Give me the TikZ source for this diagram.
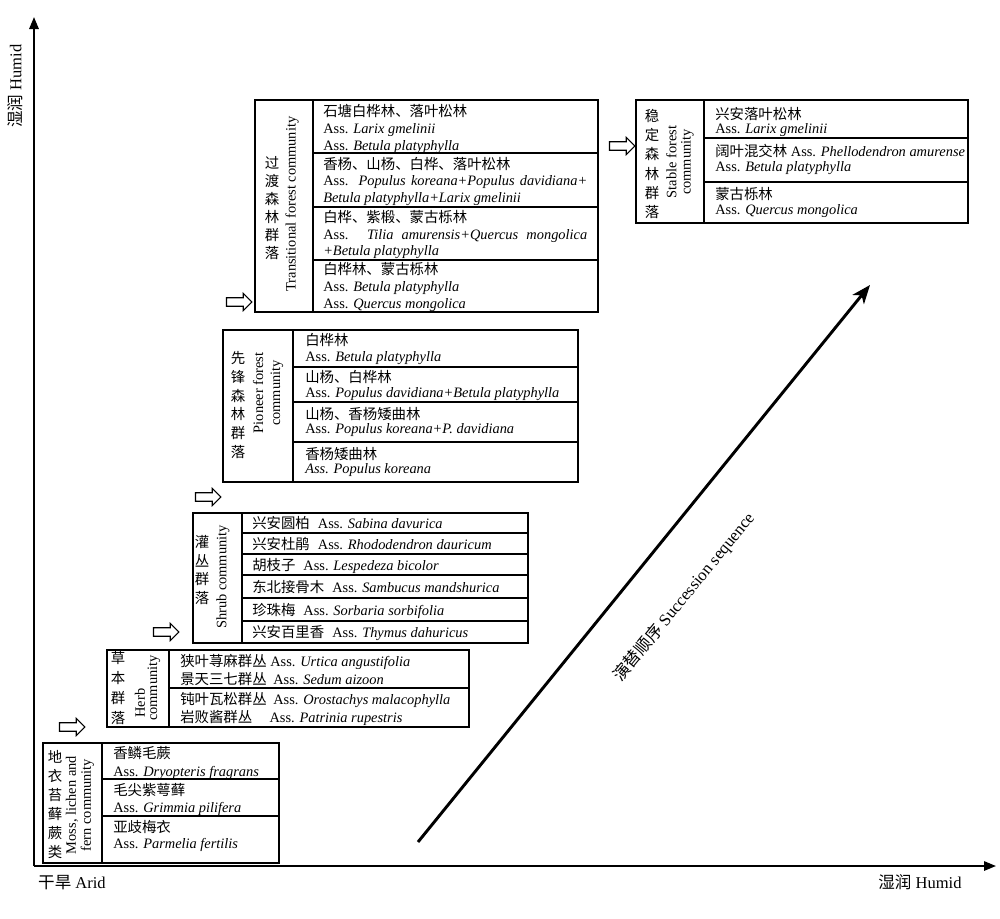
\documentclass[tikz,border=0pt]{standalone}
\usepackage{fontspec}
\setmainfont{Liberation Serif}
\newfontfamily\cjk{Noto Sans CJK SC}
\newcommand{\zh}[1]{{\cjk #1}}
\usetikzlibrary{arrows.meta,shapes.arrows}
\begin{document}
\begin{tikzpicture}[x=0.75pt,y=-0.75pt,
  every node/.style={font=\fontsize{10.8}{12.75}\selectfont},
  txt/.style={anchor=base west,inner sep=0pt},
  boxline/.style={line width=0.8pt},
  thickbox/.style={line width=1.4pt},
  axis/.style={line width=1.5pt,-{Triangle[length=9pt,width=7pt]}},
  hollow/.style={draw,fill=white,single arrow,single arrow head extend=3.2pt,inner sep=2.8pt,minimum height=19pt,line width=0.8pt},
  vzh/.style={align=center,inner sep=0pt},
  ven/.style={rotate=90,align=center,inner sep=0pt},
  axlabel/.style={font=\fontsize{12.4}{14}\selectfont,inner sep=0pt}
]
\fill[white] (0,0) rectangle (1000,918);
\useasboundingbox (0,0) rectangle (1000,918);

% axes
\coordinate (O) at (34,866);
\coordinate (ytop) at (34,17);
\coordinate (xend) at (996,866);
\draw[axis] (O) -- (ytop);
\draw[axis] (O) -- (xend);
\node[axlabel,rotate=90] (ylab) at (15,86) {\zh{湿润} Humid};
\node[axlabel] (arid) at (72,883) {\zh{干旱} Arid};
\node[axlabel] (humid) at (920,882) {\zh{湿润} Humid};

% succession arrow
\coordinate (s0) at (418,842);
\coordinate (s1) at (870,285);
\draw[line width=2.2pt,-{Stealth[length=14pt,width=11pt,inset=4pt]}] (s0) -- (s1);
\node[rotate=50.8,inner sep=0pt,font=\fontsize{12.6}{14}\selectfont] (seq) at (684,597) {\zh{演替顺序} Succession sequence};

% hollow arrows
\node[hollow] (ha1) at (70,727) {};
\node[hollow] (ha2) at (164,632) {};
\node[hollow] (ha3) at (206,497) {};
\node[hollow] (ha4) at (237,302) {};
\node[hollow] (ha5) at (620,146) {};

% ---------- Transitional forest ----------
\draw[boxline] (255,100) rectangle (598,312);
\draw[boxline] (313,100) -- (313,312);
\draw[boxline] (313,153) -- (598,153) (313,207) -- (598,207) (313,260) -- (598,260);
\node[vzh,font=\fontsize{10.8}{13.5}\selectfont\cjk] (trzh) at (272,208) {过\\渡\\森\\林\\群\\落};
\node[ven] (tren) at (292,204) {Transitional forest community};
\node[txt] (tr1a) at (323,116) {\zh{石塘白桦林、落叶松林}};
\node[txt] (tr1b) at (323,133) {Ass. \textit{Larix gmelinii}};
\node[txt] (tr1c) at (323,150) {Ass. \textit{Betula platyphylla}};
\node[txt] (tr2a) at (323,169) {\zh{香杨、山杨、白桦、落叶松林}};
\node[txt] (tr2b) at (323,185) {\makebox[198pt][s]{Ass. \textit{Populus koreana+Populus davidiana+}}};
\node[txt] (tr2c) at (323,202) {\textit{Betula platyphylla+Larix gmelinii}};
\node[txt] (tr3a) at (323,222) {\zh{白桦、紫椴、蒙古栎林}};
\node[txt] (tr3b) at (323,239) {\makebox[198pt][s]{Ass. \textit{Tilia amurensis+Quercus mongolica}}};
\node[txt] (tr3c) at (323,255) {\textit{+Betula platyphylla}};
\node[txt] (tr4a) at (323,274) {\zh{白桦林、蒙古栎林}};
\node[txt] (tr4b) at (323,291) {Ass. \textit{Betula platyphylla}};
\node[txt] (tr4c) at (323,308) {Ass. \textit{Quercus mongolica}};

% ---------- Stable forest ----------
\draw[boxline] (636,100) rectangle (968,223);
\draw[boxline] (704,100) -- (704,223);
\draw[boxline] (704,138) -- (968,138) (704,182) -- (968,182);
\node[vzh,font=\fontsize{10.8}{14.5}\selectfont\cjk] (stzh) at (652,164) {稳\\定\\森\\林\\群\\落};
\node[ven,font=\fontsize{10.8}{10.8}\selectfont] (sten) at (680,162) {Stable forest\\community};
\node[txt] (st1a) at (715,119) {\zh{兴安落叶松林}};
\node[txt] (st1b) at (715,133) {Ass. \textit{Larix gmelinii}};
\node[txt] (st2a) at (715,156) {\zh{阔叶混交林} Ass. \textit{Phellodendron amurense}};
\node[txt] (st2b) at (715,171) {Ass. \textit{Betula platyphylla}};
\node[txt] (st3a) at (715,199) {\zh{蒙古栎林}};
\node[txt] (st3b) at (715,214) {Ass. \textit{Quercus mongolica}};

% ---------- Pioneer forest ----------
\draw[boxline] (223,330) rectangle (578,482);
\draw[boxline] (293,330) -- (293,482);
\draw[boxline] (293,367) -- (578,367) (293,402) -- (578,402) (293,442) -- (578,442);
\node[vzh,font=\fontsize{10.8}{14.1}\selectfont\cjk] (pizh) at (238,405) {先\\锋\\森\\林\\群\\落};
\node[ven] (pien) at (268,393) {Pioneer forest\\community};
\node[txt] (pi1a) at (305,345) {\zh{白桦林}};
\node[txt] (pi1b) at (305,361) {Ass. \textit{Betula platyphylla}};
\node[txt] (pi2a) at (305,382) {\zh{山杨、白桦林}};
\node[txt] (pi2b) at (305,397) {Ass. \textit{Populus davidiana+Betula platyphylla}};
\node[txt] (pi3a) at (305,419) {\zh{山杨、香杨矮曲林}};
\node[txt] (pi3b) at (305,433) {Ass. \textit{Populus koreana+P. davidiana}};
\node[txt] (pi4a) at (305,459) {\zh{香杨矮曲林}};
\node[txt] (pi4b) at (305,473) {\textit{Ass. Populus koreana}};

% ---------- Shrub ----------
\draw[thickbox] (193,513) rectangle (528,643);
\draw[thickbox] (242,513) -- (242,643);
\draw[thickbox] (242,533) -- (528,533) (242,554) -- (528,554) (242,575) -- (528,575)
  (242,598) -- (528,598) (242,621) -- (528,621);
\node[vzh,font=\fontsize{10.8}{13.9}\selectfont\cjk] (shzh) at (202,570) {灌\\丛\\群\\落};
\node[ven] (shen) at (223,577) {Shrub community};
\node[txt] (sh1) at (252,528) {\zh{兴安圆柏}\hspace{6pt}Ass. \textit{Sabina davurica}};
\node[txt] (sh2) at (252,549) {\zh{兴安杜鹃}\hspace{6pt}Ass. \textit{Rhododendron dauricum}};
\node[txt] (sh3) at (252,570) {\zh{胡枝子}\hspace{6pt}Ass. \textit{Lespedeza bicolor}};
\node[txt] (sh4) at (252,592) {\zh{东北接骨木}\hspace{6pt}Ass. \textit{Sambucus mandshurica}};
\node[txt] (sh5) at (252,615) {\zh{珍珠梅}\hspace{6pt}Ass. \textit{Sorbaria sorbifolia}};
\node[txt] (sh6) at (252,637) {\zh{兴安百里香}\hspace{6pt}Ass. \textit{Thymus dahuricus}};

% ---------- Herb ----------
\draw[boxline] (107,650) rectangle (469,727);
\draw[boxline] (169,650) -- (169,727);
\draw[boxline] (169,688) -- (469,688);
\node[vzh,font=\fontsize{10.8}{15}\selectfont\cjk] (hezh) at (118,688) {草\\本\\群\\落};
\node[ven] (heen1) at (140,703) {Herb};
\node[ven] (heen2) at (154,688) {community};
\node[txt] (he1) at (180,666) {\zh{狭叶荨麻群丛} Ass. \textit{Urtica angustifolia}};
\node[txt] (he2) at (180,684) {\zh{景天三七群丛}\hspace{5pt}Ass. \textit{Sedum aizoon}};
\node[txt] (he3) at (180,704) {\zh{钝叶瓦松群丛}\hspace{5pt}Ass. \textit{Orostachys malacophylla}};
\node[txt] (he4) at (180,722) {\zh{岩败酱群丛}\hspace{13pt}Ass. \textit{Patrinia rupestris}};

% ---------- Moss ----------
\draw[boxline] (43,743) rectangle (279,863);
\draw[boxline] (102,743) -- (102,863);
\draw[boxline] (102,779) -- (279,779) (102,816) -- (279,816);
\node[vzh,font=\fontsize{10.8}{14.25}\selectfont\cjk] (mozh) at (55,805) {地\\衣\\苔\\藓\\蕨\\类};
\node[ven,font=\fontsize{10.8}{11.25}\selectfont] (moen) at (80,805) {Moss, lichen and\\fern community};
\node[txt] (mo1a) at (113,758) {\zh{香鳞毛蕨}};
\node[txt] (mo1b) at (113,776) {Ass. \textit{Dryopteris fragrans}};
\node[txt] (mo2a) at (113,795) {\zh{毛尖紫萼藓}};
\node[txt] (mo2b) at (113,812) {Ass. \textit{Grimmia pilifera}};
\node[txt] (mo3a) at (113,832) {\zh{亚歧梅衣}};
\node[txt] (mo3b) at (113,848) {Ass. \textit{Parmelia fertilis}};
\end{tikzpicture}
\end{document}
